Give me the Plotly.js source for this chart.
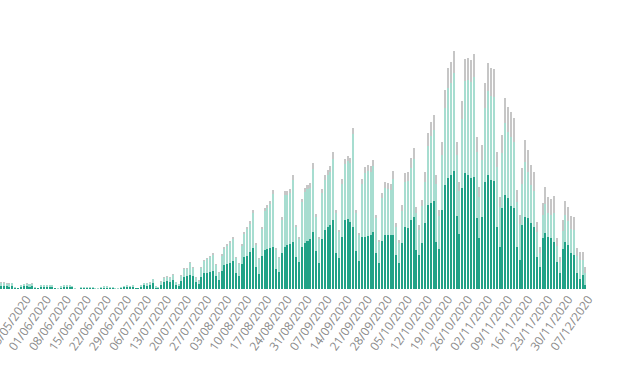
<!DOCTYPE html>
<html><head><meta charset="utf-8">
<script src="https://cdn.plot.ly/plotly-3.0.1.min.js"></script>
<style>html,body{margin:0;padding:0;background:#fff}#chart{width:620px;height:368px}</style>
</head><body><div id="chart"></div>
<script>
// one value per day starting 16/05/2020
const startDate = '2020-05-16';
const darkVals = [
3,3,3,2.5,3,1,1,
2,3,3,2.5,3,1,1,
2,2,2.5,2,2,1,0.5,
1.5,2,2,2,2,0.5,0.3,
1,1.3,1.3,1.3,1.3,0.5,0.5,
1,1.5,1.5,1.5,1.5,0.5,0.5,
1,2,2,2,2,0.8,0.8,
2,4,3.5,4,6,1.5,1.5,
4.5,7,8,7,9,4,3,
8,12,13,14,13,7,5,
12,16,16,17,18,13,9,
18,24,25,26,28,16,13,
25,32,33,37,41,22,15,
33,39,40,41,42,20,17,
36,42,44,45,47,32,27,
42,46,48,50,57,38,26,
50,59,62,64,69,36,31,
52,69,70,67,62,38,28,
52,52,53,54,57,36,26,
48,54,54,54,54,34,25.7,
45.7,62.3,60.7,69,72.3,39,34,
46,65.7,84,85.7,88,47.3,39.7,
79,104,110.7,114,118,73,54.7,
100.7,115.7,114,110.7,112.3,70.7,50.7,
72.3,107.3,114,109,108,62.3,42.3,
80.7,94,90.7,83.3,80.7,42.3,29,
64,72.3,70.7,65.7,62.3,32.3,22.3,
50.7,56.3,52.3,50.7,47.3,27.3,15.7,
40,47.3,44,36.3,34,15.7,10,
14,4];
const lightVals = [
3.5,3.5,2.5,3,3,0.8,0.3,
1.7,1.7,2.5,2.5,2.5,0.8,0.3,
1.7,1.7,1.7,1.7,1.7,0.4,0.4,
1.3,1.7,1.7,2.2,1.2,0.4,0.1,
0.9,1,1,1,0.5,0.4,0.4,
0.9,1.3,1.3,0.8,0.8,0.4,0.4,
1.3,1.3,1.7,1.2,1.7,0.6,0.6,
1.7,2.1,2.1,2.5,4,1.3,0.8,
3,4.3,4.3,4.3,5.2,2.6,1.7,
5.3,8,7,12,8,4.5,3.5,
9,12,14,15,16.5,11,7.5,
15.5,16,18,20,22,15,12,
18,23,27,28.5,35,22.5,15,
27,39,41,44,53.5,19.5,14,
33.5,52,50,51,62.5,30,23,
45,51,52,51.5,63,34,24,
46,50,52,53,61,40,26,
53,56,58,59,93,38,26,
53,64,65,63,66,35,21,
43,47,46,45,56,27.7,20.3,
32.3,44.4,47.6,51.7,57.4,37.3,25,
37,41.6,58.7,67.6,71,57.7,33.3,
55.3,77,90,91.7,98,61.3,43.6,
69.3,92.3,94.7,96.3,99.7,66.6,41.6,
56.7,73.4,83.7,83.7,83.7,60,40,
55.3,71.7,66.6,69,66,44.7,36,
40.7,54.7,46.3,38.3,36,25,14,
23,29,24,23,28.7,15.4,11.6,
18,27,24.3,24,25.3,17,19.3,
14.7,12.3];
const greyVals = [
0.5,0.5,0.5,0.5,0.5,0.2,0.2,
0.3,0.3,0.5,0.5,0.5,0.2,0.2,
0.3,0.3,0.3,0.3,0.3,0.1,0.1,
0.2,0.3,0.3,0.3,0.3,0.1,0.1,
0.1,0.2,0.2,0.2,0.2,0.1,0.1,
0.1,0.2,0.2,0.2,0.2,0.1,0.1,
0.2,0.2,0.3,0.3,0.3,0.1,0.1,
0.3,0.4,0.4,0.5,0.5,0.2,0.2,
0.5,0.7,0.7,0.7,0.8,0.4,0.3,
0.7,1,1,1,1,0.5,0.5,
1,1,1,1,1.5,1,0.5,
1.5,2,2,2,2,1,1,
2,2,2,2.5,3,1.5,1,
2,3,3,3,3.5,1.5,1,
2.5,4,4,4,4.5,2,2,
3,4,4,4.5,6,3,2,
4,5,5,6,7,3,2,
5,5,5,5,6,3,2,
5,6,6,6,6,3,2,
5,6,6,6,8,4,3,
6,9,9,10,11,6,5,
6,10,13,14,15,9,6,
13,18,20,21,22,13,9,
18,22,22,22,23,15,10,
15,25,28,28,28,15,10,
18,25,25,25,24,12,9,
16,22,22,20,19,10,6,
12,17,16,16,17,8,5,
11,14,14,13,13,8,8,
8,6];
const tickDates = ['2020-05-25','2020-06-01','2020-06-08','2020-06-15','2020-06-22','2020-06-29','2020-07-06','2020-07-13','2020-07-20','2020-07-27','2020-08-03','2020-08-10','2020-08-17','2020-08-24','2020-08-31','2020-09-07','2020-09-14','2020-09-21','2020-09-28','2020-10-05','2020-10-12','2020-10-19','2020-10-26','2020-11-02','2020-11-09','2020-11-16','2020-11-23','2020-11-30','2020-12-07'];

const dates = [];
const s = new Date(startDate + 'T00:00:00Z');
for (let i = 0; i < darkVals.length; i++) {
  const d = new Date(s.getTime() + i * 86400000);
  dates.push(d.toISOString().slice(0, 10));
}
const tickText = tickDates.map(t => t.slice(8,10) + '/' + t.slice(5,7) + '/' + t.slice(0,4));

const mk = (y, color) => ({type:'bar', x:dates, y:y, marker:{color:color, line:{width:0}}, hoverinfo:'skip'});
const data = [mk(darkVals,'#21a287'), mk(lightVals,'#a7ddd0'), mk(greyVals,'#c6c6c6')];
const layout = {
  width:620, height:368, barmode:'stack', bargap:0.3, showlegend:false,
  paper_bgcolor:'#fff', plot_bgcolor:'#fff',
  margin:{l:0, r:20, t:0, b:79},
  xaxis:{type:'date', range:['2020-05-15 17:00','2020-12-11 01:30'], tickvals:tickDates, ticktext:tickText,
    tickangle:-55, showgrid:false, zeroline:false, showline:false, ticks:'', ticklabeloverflow:'allow',
    tickfont:{family:'Segoe UI, Open Sans, sans-serif', size:12, color:'#8a8a8a'}},
  yaxis:{visible:false, range:[0,289], fixedrange:true}
};
Plotly.newPlot('chart', data, layout, {displayModeBar:false, staticPlot:true});
</script></body></html>
